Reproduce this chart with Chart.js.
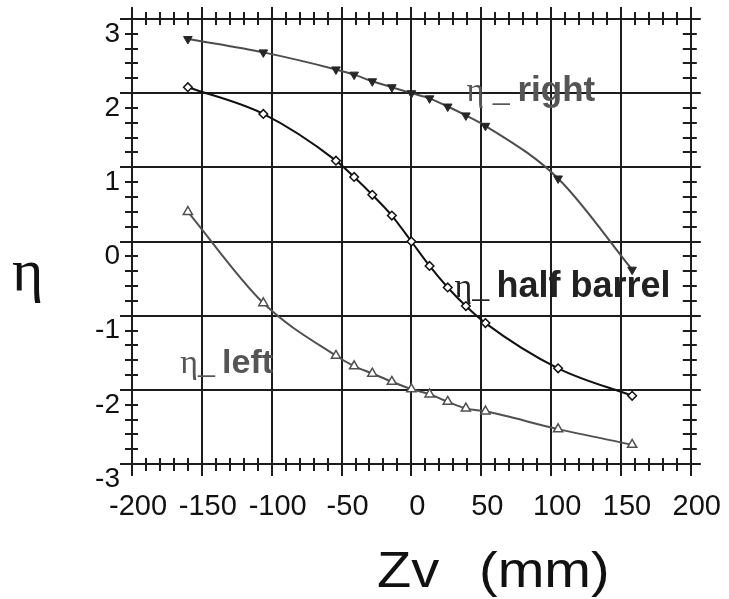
<!DOCTYPE html>
<html>
<head>
<meta charset="utf-8">
<script src="https://cdn.jsdelivr.net/npm/chart.js@4.4.1/dist/chart.umd.min.js"></script>
<style>
  html, body { margin: 0; padding: 0; background: #ffffff; }
  #wrap { width: 729px; height: 599px; position: relative; }
</style>
</head>
<body>
<div id="wrap"><canvas id="chart" width="729" height="599"></canvas></div>
<script>
// Vertex position along the beam axis (mm)
const zv = [-160, -106, -54, -41, -28, -14, 0, 13, 26, 39, 53, 105, 158];

// Pseudorapidity coverage for each detector section
const etaRight      = [2.73, 2.55, 2.32, 2.25, 2.16, 2.08, 2.00, 1.93, 1.82, 1.70, 1.56, 0.85, -0.38];
const etaHalfBarrel = [2.08, 1.72, 1.09, 0.87, 0.63, 0.35, 0.00, -0.33, -0.62, -0.87, -1.10, -1.71, -2.08];
const etaLeft       = [0.40, -0.83, -1.54, -1.68, -1.78, -1.89, -1.99, -2.06, -2.16, -2.25, -2.29, -2.53, -2.74];

// Axis tick values and their printed labels
const xTickValues = [-200, -150, -100, -50, 0, 50, 100, 150, 200];
const xTickLabels = ['-200', '-150', '-100', '-50', '0', '50', '100', '150', '200'];
const yTickValues = [3, 2, 1, 0, -1, -2, -3];
const yTickLabels = ['3', '2', '1', '0', '-1', '-2', '-3'];

// Curve names written next to each curve
const seriesNames = ['right', 'half barrel', 'left'];

const INK = '#1c1c1c';

function pts(ys) { return zv.map((z, i) => ({ x: z, y: ys[i] })); }
function labelFor(values, labels, v) {
  const i = values.findIndex(t => Math.abs(t - v) < 1e-9);
  return i < 0 ? '' : labels[i];
}

// Minor tick marks crossing the frame, plus major tick extensions on top/right
const frameTicks = {
  id: 'frameTicks',
  beforeDatasetsDraw(chart) {
    const { ctx, chartArea: { left, right, top, bottom }, scales: { x, y } } = chart;
    ctx.save();
    ctx.strokeStyle = INK;
    ctx.lineWidth = 2;
    ctx.beginPath();
    for (let k = 0; k <= 40; k++) {
      const v = x.min + k * 10;
      const px = Math.round(x.getPixelForValue(v));
      if (k % 5 === 0) {
        ctx.moveTo(px, top); ctx.lineTo(px, top - 12);
      } else {
        ctx.moveTo(px, bottom - 6); ctx.lineTo(px, bottom + 7);
        ctx.moveTo(px, top - 7); ctx.lineTo(px, top + 6);
      }
    }
    for (let k = 0; k <= 30; k++) {
      const v = y.min + k * 0.2;
      const py = Math.round(y.getPixelForValue(v));
      if (k % 5 === 0) {
        ctx.moveTo(right, py); ctx.lineTo(right + 10, py);
      } else {
        ctx.moveTo(left - 7, py); ctx.lineTo(left + 6, py);
        ctx.moveTo(right - 8, py); ctx.lineTo(right + 6, py);
      }
    }
    ctx.stroke();
    ctx.restore();
  }
};

// Axis titles and curve names
const captions = {
  id: 'captions',
  afterDraw(chart) {
    const { ctx, scales: { x, y } } = chart;
    ctx.save();
    ctx.textBaseline = 'alphabetic';
    ctx.textAlign = 'left';

    // y title: upright eta
    ctx.fillStyle = '#111';
    ctx.font = '60px "Liberation Serif"';
    ctx.fillText('\u03b7', 12, 290);

    // x title, slightly wide lettering
    ctx.font = '50px "Liberation Sans"';
    ctx.save();
    ctx.translate(377, 587);
    ctx.scale(1.12, 1);
    ctx.fillText('Zv', 0, 0);
    ctx.restore();
    ctx.save();
    ctx.translate(479, 587);
    ctx.scale(1.12, 1);
    ctx.fillText('(mm)', 0, 0);
    ctx.restore();

    // curve names: serif eta prefix followed by a bold word
    const tags = [
      { prefix: '\u03b7 _', word: seriesNames[0], x: 39.5, wx: 75.9, y: 1.89, color: '#555555', size: 35 },
      { prefix: '\u03b7_', word: seriesNames[1], x: 30.9, wx: 60.9, y: -0.75, color: '#222222', size: 36 },
      { prefix: '\u03b7_', word: seriesNames[2], x: -165.5, wx: -135.5, y: -1.77, color: '#555555', size: 34 }
    ];
    tags.forEach(t => {
      const by = y.getPixelForValue(t.y);
      ctx.fillStyle = t.color;
      ctx.font = '34px "Liberation Serif"';
      ctx.fillText(t.prefix, x.getPixelForValue(t.x), by);
      ctx.font = 'bold ' + t.size + 'px "Liberation Sans"';
      ctx.fillText(t.word, x.getPixelForValue(t.wx), by);
    });
    ctx.restore();
  }
};

new Chart(document.getElementById('chart'), {
  type: 'scatter',
  data: {
    datasets: [
      {
        label: 'eta right',
        data: pts(etaRight),
        showLine: true,
        cubicInterpolationMode: 'monotone',
        borderColor: '#4d4d4d',
        borderWidth: 2,
        pointStyle: 'triangle',
        rotation: 180,
        pointRadius: 5,
        pointBackgroundColor: '#262626',
        pointBorderColor: '#262626',
        pointBorderWidth: 1
      },
      {
        label: 'eta half barrel',
        data: pts(etaHalfBarrel),
        showLine: true,
        cubicInterpolationMode: 'monotone',
        borderColor: '#111111',
        borderWidth: 2,
        pointStyle: 'rectRot',
        pointRadius: 4.3,
        pointBackgroundColor: '#ffffff',
        pointBorderColor: '#111111',
        pointBorderWidth: 1.5
      },
      {
        label: 'eta left',
        data: pts(etaLeft),
        showLine: true,
        cubicInterpolationMode: 'monotone',
        borderColor: '#505050',
        borderWidth: 2,
        pointStyle: 'triangle',
        pointRadius: 5.3,
        pointBackgroundColor: '#ffffff',
        pointBorderColor: '#505050',
        pointBorderWidth: 1.5
      }
    ]
  },
  options: {
    responsive: false,
    devicePixelRatio: 1,
    animation: false,
    events: [],
    layout: { padding: { top: 19, right: 37, bottom: 0, left: 0 } },
    plugins: {
      legend: { display: false },
      tooltip: { enabled: false },
      title: { display: false }
    },
    scales: {
      x: {
        type: 'linear',
        position: 'bottom',
        min: -200,
        max: 200,
        afterFit(s) { s.height = 135; },
        afterBuildTicks(s) { s.ticks = xTickValues.map(v => ({ value: v })); },
        ticks: {
          autoSkip: false,
          maxRotation: 0,
          padding: 14,
          labelOffset: 6,
          color: '#111111',
          font: { family: 'Liberation Sans', size: 29 },
          callback: v => labelFor(xTickValues, xTickLabels, v)
        },
        grid: { color: INK, lineWidth: 2, tickLength: 12, tickColor: INK, tickWidth: 2 },
        border: { color: INK, width: 2 }
      },
      y: {
        type: 'linear',
        position: 'left',
        min: -3,
        max: 3,
        afterFit(s) { s.width = 132; },
        afterBuildTicks(s) { s.ticks = yTickValues.slice().reverse().map(v => ({ value: v })); },
        ticks: {
          autoSkip: false,
          padding: 0,
          labelOffset: 15,
          color: '#111111',
          font: { family: 'Liberation Sans', size: 28 },
          callback: v => labelFor(yTickValues, yTickLabels, v)
        },
        grid: { color: INK, lineWidth: 2, tickLength: 12, tickColor: INK, tickWidth: 2 },
        border: { color: INK, width: 2 }
      }
    }
  },
  plugins: [frameTicks, captions]
});
</script>
</body>
</html>
